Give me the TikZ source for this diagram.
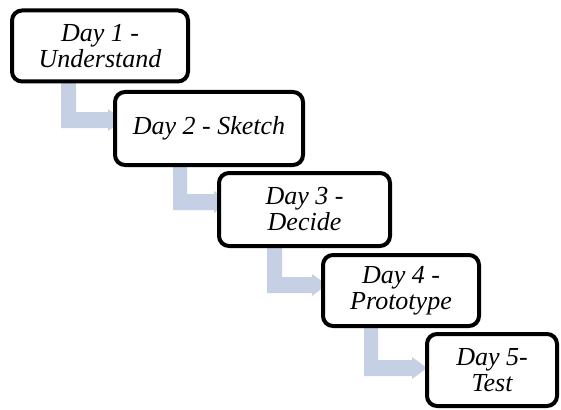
\documentclass[tikz,border=0pt]{standalone}
\usepackage{fontspec}
\setmainfont{Liberation Serif}
\definecolor{arrowblue}{RGB}{197,208,228}
\pgfdeclarelayer{bg}
\pgfsetlayers{bg,main}
\tikzset{
  daybox/.style={draw=black, line width=4pt, rounded corners=10pt, fill=white,
    align=center, inner sep=0pt, font=\fontsize{26}{26}\selectfont\itshape},
  bentarrow/.style={fill=arrowblue, draw=none}
}
\begin{document}
\begin{tikzpicture}[x=1pt,y=-1pt]
\useasboundingbox (0,0) rectangle (561,409);
% boxes
\node[daybox, minimum width=176pt, minimum height=71pt] (b1) at (100,46) {Day 1 -\\Understand};
\node[daybox, minimum width=188pt, minimum height=73pt] (b2) at (209,128.5) {Day 2 - Sketch};
\node[daybox, minimum width=171pt, minimum height=73pt] (b3) at (304.5,209.5) {Day 3 -\\Decide};
\node[daybox, minimum width=156pt, minimum height=71pt] (b4) at (401,290.5) {Day 4 -\\Prototype};
\node[daybox, minimum width=130pt, minimum height=72pt] (b5) at (492,370) {Day 5-\\Test};
% bent arrows behind the boxes
\begin{pgfonlayer}{bg}
\fill[bentarrow] (61,78) -- (76,78) -- (76,112) -- (108,112) -- (108,109) -- (123,120) -- (108,131) -- (108,128) -- (61,128) -- cycle;
\fill[bentarrow] (173,160) -- (187,160) -- (187,194) -- (214,194) -- (214,191) -- (229,202) -- (214,213) -- (214,210) -- (173,210) -- cycle;
\fill[bentarrow] (267,242) -- (282,242) -- (282,277) -- (312,277) -- (312,274) -- (327,285) -- (312,296) -- (312,293) -- (267,293) -- cycle;
\fill[bentarrow] (364,322) -- (378,322) -- (378,360) -- (412,360) -- (412,357) -- (427,368) -- (412,379) -- (412,376) -- (364,376) -- cycle;
\end{pgfonlayer}
\end{tikzpicture}
\end{document}
